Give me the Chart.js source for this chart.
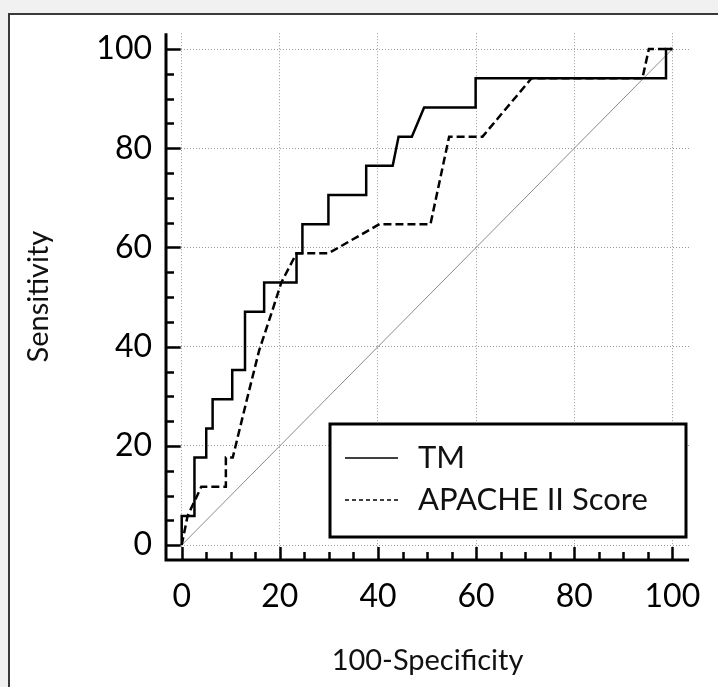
<!DOCTYPE html>
<html>
<head>
<meta charset="utf-8">
<script src="https://cdn.jsdelivr.net/npm/chart.js@4.4.1/dist/chart.umd.min.js"></script>
<style>
  html, body { margin: 0; padding: 0; background: #f1f1f1; overflow: hidden; }
  #frame { position: absolute; left: 8px; top: 13px; width: 900px; height: 900px;
           background: #fff; border-left: 2px solid #3a3a3a; border-top: 2px solid #3a3a3a; }
  #c { position: absolute; left: 0; top: 0; }
</style>
</head>
<body>
<div id="frame"></div>
<canvas id="c" width="718" height="687"></canvas>
<script>
// ---- data ----
const tmX = [0,0,2.6,2.6,5.0,5.0,6.3,6.3,10.3,10.3,12.9,12.9,16.8,16.8,23.4,23.4,24.6,24.6,29.9,29.9,37.6,37.6,43.0,44.2,46.9,49.4,59.9,59.9,98.7,98.7,100];
const tmY = [0,5.88,5.88,17.65,17.65,23.53,23.53,29.41,29.41,35.29,35.29,47.06,47.06,52.94,52.94,58.82,58.82,64.71,64.71,70.59,70.59,76.47,76.47,82.35,82.35,88.24,88.24,94.12,94.12,100,100];
const apacheX = [0,1.2,4.0,9.0,9.0,10.4,13.3,15.8,18.4,20.3,23.4,29.9,40.3,50.7,54.5,61.3,71.3,93.9,95.2,100];
const apacheY = [0,5.88,11.76,11.76,17.65,17.65,29.41,39.3,47.06,52.94,58.82,58.82,64.71,64.71,82.35,82.35,94.12,94.12,100,100];
const refX = [0,100];
const refY = [0,100];
const seriesNames = ['TM','APACHE II Score'];
const xTicks = [0,20,40,60,80,100];
const yTicks = [0,20,40,60,80,100];
const minorStep = 5;
const xTitle = '100-Specificity';
const yTitle = 'Sensitivity';

const zip = (xs, ys) => xs.map((x, i) => ({x, y: ys[i]}));
const FONT = 'Lato, "Open Sans", sans-serif';

const detachedAxes = {
  id: 'detachedAxes',
  afterDatasetsDraw(chart) {
    const {ctx, chartArea: a, scales: {x, y}} = chart;
    const x0 = x.getPixelForValue(0), y0 = y.getPixelForValue(0);
    ctx.save();
    ctx.strokeStyle = '#000';
    ctx.lineCap = 'butt';
    ctx.lineWidth = 3;
    ctx.beginPath();
    ctx.moveTo(a.left, a.top); ctx.lineTo(a.left, a.bottom + 1.5);
    ctx.moveTo(a.left - 1.5, a.bottom); ctx.lineTo(a.right, a.bottom);
    ctx.stroke();
    ctx.lineWidth = 2.5;
    ctx.beginPath();
    for (let v = 0; v <= 100; v += minorStep) {
      const major = yTicks.includes(v);
      const py = Math.round(y.getPixelForValue(v)) + 0.5;
      ctx.moveTo(a.left, py); ctx.lineTo(major ? x0 - 1 : a.left + 8, py);
      const px = Math.round(x.getPixelForValue(v)) + 0.5;
      ctx.moveTo(px, a.bottom); ctx.lineTo(px, major ? y0 + 2 : a.bottom - 8);
    }
    ctx.stroke();
    ctx.restore();
  }
};

const boxLegend = {
  id: 'boxLegend',
  afterDatasetsDraw(chart) {
    const {ctx} = chart;
    const L = 330, T = 424, R = 686, B = 537;
    ctx.save();
    ctx.fillStyle = '#fff';
    ctx.fillRect(L, T, R - L, B - T);
    ctx.strokeStyle = '#000';
    ctx.lineWidth = 3;
    ctx.strokeRect(L, T, R - L, B - T);
    const rows = [458, 500];
    chart.data.datasets.slice(0, 2).forEach((ds, i) => {
      ctx.beginPath();
      ctx.lineWidth = 1.5;
      ctx.setLineDash(ds.borderDash && ds.borderDash.length ? [4, 3] : []);
      ctx.moveTo(345, rows[i]); ctx.lineTo(398, rows[i]);
      ctx.stroke();
      ctx.setLineDash([]);
      ctx.fillStyle = '#111';
      ctx.font = '31px ' + FONT;
      ctx.textBaseline = 'middle';
      ctx.textAlign = 'left';
      ctx.fillText(ds.label, 418, rows[i]);
    });
    ctx.restore();
  }
};

new Chart(document.getElementById('c'), {
  type: 'line',
  data: {
    datasets: [
      { label: seriesNames[0], data: zip(tmX, tmY), borderColor: '#000', borderWidth: 2.5,
        pointRadius: 0, tension: 0, fill: false },
      { label: seriesNames[1], data: zip(apacheX, apacheY), borderColor: '#000', borderWidth: 2.5,
        borderDash: [8, 4], pointRadius: 0, tension: 0, fill: false },
      { label: 'reference', data: zip(refX, refY), borderColor: '#8a8a8a', borderWidth: 1,
        pointRadius: 0, tension: 0, fill: false }
    ]
  },
  options: {
    responsive: false,
    animation: false,
    layout: { padding: { left: 0, top: 33, right: 24, bottom: 0 } },
    plugins: { legend: { display: false }, tooltip: { enabled: false } },
    scales: {
      x: {
        type: 'linear', min: -3.2, max: 103.4,
        afterBuildTicks: s => { s.ticks = xTicks.map(v => ({value: v})); },
        afterFit: s => { s.height = 127; },
        grid: { color: '#9a9a9a', lineWidth: 1, drawTicks: false },
        border: { display: false, dash: [1, 2] },
        ticks: { color: '#000', font: { family: FONT, size: 32 }, padding: 17, maxRotation: 0,
                 callback: v => String(v) },
        title: { display: true, text: xTitle, color: '#111', font: { family: FONT, size: 29 },
                 padding: { top: 0, bottom: 9 } }
      },
      y: {
        type: 'linear', min: -3.0, max: 103.2,
        afterBuildTicks: s => { s.ticks = yTicks.map(v => ({value: v})); },
        afterFit: s => { s.width = 166; },
        grid: { color: '#9a9a9a', lineWidth: 1, drawTicks: false },
        border: { display: false, dash: [1, 2] },
        ticks: { color: '#000', font: { family: FONT, size: 32 }, padding: 14,
                 callback: v => String(v) },
        title: { display: true, text: yTitle, color: '#111', font: { family: FONT, size: 29 },
                 padding: { top: 21, bottom: 0 } }
      }
    }
  },
  plugins: [detachedAxes, boxLegend]
});
</script>
</body>
</html>
